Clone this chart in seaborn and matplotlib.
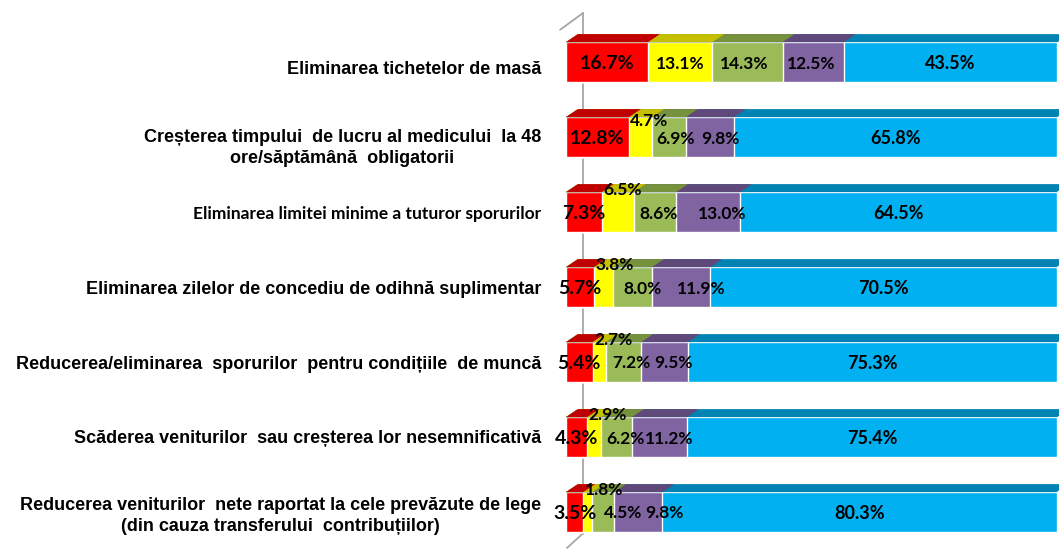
import numpy as np
import pandas as pd
import seaborn as sns
import matplotlib.pyplot as plt
from matplotlib.patches import Polygon
from matplotlib.transforms import offset_copy

# categories (top to bottom)
rows = [
    "Eliminarea tichetelor de masă",
    "Creșterea timpului  de lucru al medicului  la 48\nore/săptămână  obligatorii",
    "Eliminarea limitei minime a tuturor sporurilor",
    "Eliminarea zilelor de concediu de odihnă suplimentar",
    "Reducerea/eliminarea  sporurilor  pentru condițiile  de muncă",
    "Scăderea veniturilor  sau creșterea lor nesemnificativă",
    "Reducerea veniturilor  nete raportat la cele prevăzute de lege\n(din cauza transferului  contribuțiilor)",
]

# stacked series, percent
red = [16.7, 12.8, 7.3, 5.7, 5.4, 4.3, 3.5]
yellow = [13.1, 4.7, 6.5, 3.8, 2.7, 2.9, 1.8]
green = [14.3, 6.9, 8.6, 8.0, 7.2, 6.2, 4.5]
purple = [12.5, 9.8, 13.0, 11.9, 9.5, 11.2, 9.8]
blue = [43.5, 65.8, 64.5, 70.5, 75.3, 75.4, 80.3]

series = [red, yellow, green, purple, blue]
front_colors = ["#FF0000", "#FFFF00", "#9BBB59", "#8064A2", "#00B0F0"]
top_colors = ["#C00000", "#C4C000", "#76923C", "#5F497A", "#0083B3"]

# horizontal label nudges in pixels (labels in the original are pushed right a bit)
nudge_green = [-3, 7, 4, 10, 8, 9, 20]
nudge_purple = [-2, 11, 14, 20, 9, 10, 26]

sns.set_style("white")
plt.rcParams["font.family"] = ["Liberation Sans", "DejaVu Sans"]

fig = plt.figure(figsize=(10.59, 5.49), dpi=100)
W, H = 1059, 549
ax = fig.add_axes([566 / W, -0.5 / H, 491 / W, 525 / H])

cum = np.cumsum(np.array(series), axis=0)
bar_h = 0.53

# draw cumulative bars from longest to shortest so they stack visually
for i in range(len(series) - 1, -1, -1):
    sns.barplot(x=cum[i], y=rows, orient="h", color=front_colors[i],
                saturation=1, width=bar_h, errorbar=None, ax=ax, order=rows)

ax.set_xlim(0, 100)
ax.set_ylim(len(rows) - 0.5, -0.5)

# 3D top faces
DX_PX, DY_PX = 12, 8
dx = DX_PX * 100 / 491
dy = DY_PX * 1.0 / 75
for i in range(len(series) - 1, -1, -1):
    for j in range(len(rows)):
        x1 = cum[i][j]
        yt = j - bar_h / 2
        poly = Polygon([(0, yt), (x1, yt), (x1 + dx, yt - dy), (dx, yt - dy)],
                       closed=True, facecolor=top_colors[i], edgecolor="none",
                       clip_on=False, zorder=2)
        ax.add_patch(poly)

# wall lines
wall = dict(transform=ax.transAxes, clip_on=False, color="#A6A6A6", lw=1.3, zorder=0)
ax.plot([0.035, 0.035], [0.03, 1.022], **wall)
ax.plot([-0.012, 0.035], [0.99, 1.022], **wall)
ax.plot([0.035, 0.002], [0.031, 0.003], **wall)

# value labels
for i, vals in enumerate(series):
    for j, v in enumerate(vals):
        left = cum[i][j] - v
        txt = f"{v:.1f}%"
        fs = {0: 14, 4: 13}.get(i, 12.5)
        nx = 0
        if i == 2:
            nx = nudge_green[j]
        elif i == 3:
            nx = nudge_purple[j]
        tr = offset_copy(ax.transData, fig=fig, x=nx, y=0, units="dots")
        if i == 1 and v < 10:
            dyl = 0.22 if j == 1 else 0.3
            ax.text(left + 0.3, j - dyl, txt, ha="left", va="center", color="black",
                    fontsize=fs, fontweight="bold", family="Lato", zorder=5, transform=tr)
        else:
            ax.text(left + v / 2, j + 0.02, txt, ha="center", va="center", color="black",
                    fontsize=fs, fontweight="bold", family="Lato", zorder=5, transform=tr)

# category labels
ax.set_yticks([])
ax.set_xticks([])
label_shift = [-7, -11, -2, -2, -2, -1, -4]  # vertical nudges, pixels
for j, name in enumerate(rows):
    tr = offset_copy(ax.get_yaxis_transform(), fig=fig, x=-25, y=label_shift[j], units="dots")
    if j == 2:
        kw = dict(family="Lato", fontsize=12.5)
    else:
        kw = dict(fontsize=13)
    ax.text(0, j, name, transform=tr, ha="right", va="center", multialignment="center",
            fontweight="bold", color="black", linespacing=1.35, **kw)

ax.set_xlabel("")
ax.set_ylabel("")
sns.despine(ax=ax, left=True, bottom=True)

fig.savefig("out.png", dpi=100)
